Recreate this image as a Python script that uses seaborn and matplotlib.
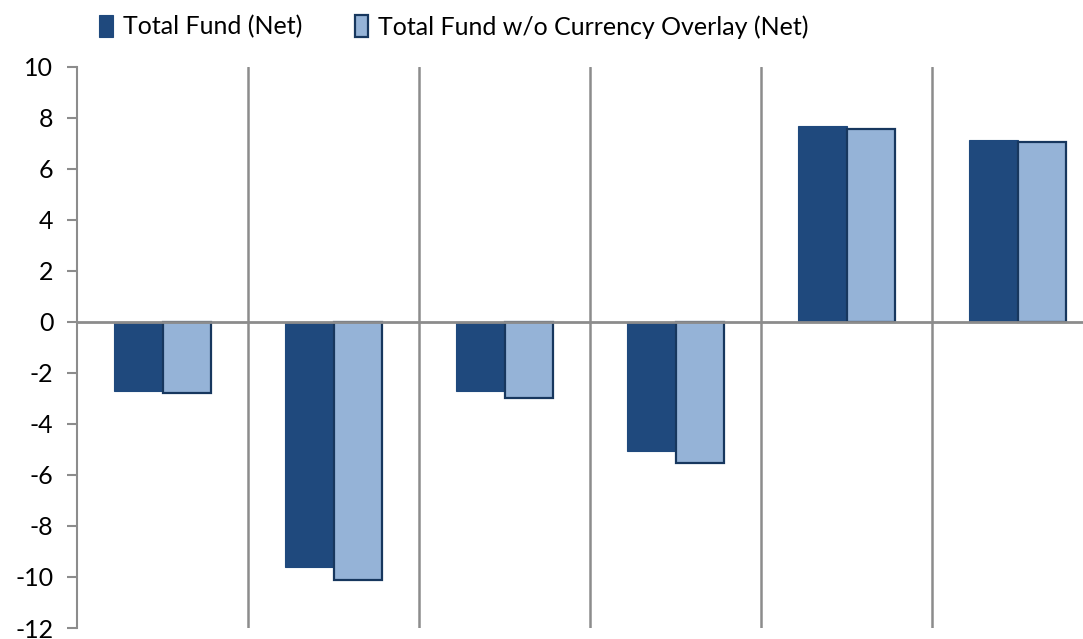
import matplotlib
matplotlib.use("Agg")
import matplotlib.pyplot as plt
from matplotlib.patches import Patch
import seaborn as sns
import pandas as pd

categories = ["A", "B", "C", "D", "E", "F"]
series_names = ["Total Fund (Net)", "Total Fund w/o Currency Overlay (Net)"]
total_fund = [-2.7, -9.6, -2.7, -5.05, 7.68, 7.14]
total_fund_no_overlay = [-2.8, -10.1, -3.0, -5.55, 7.55, 7.03]
y_ticks = list(range(-12, 11, 2))

dark_blue = "#1F497D"
light_blue = "#95B3D7"
edge_blue = "#17375E"
gray = "#8C8C8C"

df = pd.DataFrame({
    "category": categories * 2,
    "series": [series_names[0]] * len(categories) + [series_names[1]] * len(categories),
    "value": total_fund + total_fund_no_overlay,
})

sns.set_theme(style="white")
plt.rcParams["font.family"] = ["Lato", "DejaVu Sans"]

fig = plt.figure(figsize=(10.83, 6.39), dpi=100)
ax = fig.add_axes([77 / 1083, 11 / 639, 1026 / 1083, 561.3 / 639])

sns.barplot(data=df, x="category", y="value", hue="series", order=categories,
            hue_order=series_names, palette=[dark_blue, light_blue],
            width=0.57, gap=0, saturation=1, legend=False, ax=ax, zorder=2)

for patch in ax.containers[0]:
    patch.set_edgecolor(dark_blue)
    patch.set_linewidth(0.8)
for patch in ax.containers[1]:
    patch.set_edgecolor(edge_blue)
    patch.set_linewidth(1.6)

ax.set_xlim(-0.5, len(categories) - 0.5)
ax.set_ylim(-12, 10)
ax.set_yticks(y_ticks)
ax.set_yticklabels([str(t) for t in y_ticks], fontsize=18, color="black")
ax.set_xticks([])
ax.set_xticks([i + 0.5 for i in range(len(categories) - 1)], minor=True)
ax.tick_params(axis="x", which="both", length=0)
ax.tick_params(axis="y", direction="out", length=7, width=1.5, color=gray, pad=10, left=True)
ax.grid(False)
ax.xaxis.grid(True, which="minor", color=gray, linewidth=1.8, zorder=1)
ax.set_axisbelow(True)
ax.axhline(0, color=gray, linewidth=2, zorder=3)

for side in ["top", "right", "bottom"]:
    ax.spines[side].set_visible(False)
ax.spines["left"].set_color(gray)
ax.spines["left"].set_linewidth(1.5)
ax.set_xlabel("")
ax.set_ylabel("")

handles = [
    Patch(facecolor=dark_blue, edgecolor=dark_blue, linewidth=0.8),
    Patch(facecolor=light_blue, edgecolor=edge_blue, linewidth=1.6),
]
leg = fig.legend(handles, series_names, loc="center left", bbox_to_anchor=(99 / 1083, 1 - 27 / 639),
                 ncol=2, frameon=False, fontsize=18, borderpad=0, borderaxespad=0,
                 handlelength=0.55, handleheight=0.95, handletextpad=0.4, columnspacing=2.1)
for text in leg.get_texts():
    text.set_color("black")

fig.savefig("out.png", dpi=100)
